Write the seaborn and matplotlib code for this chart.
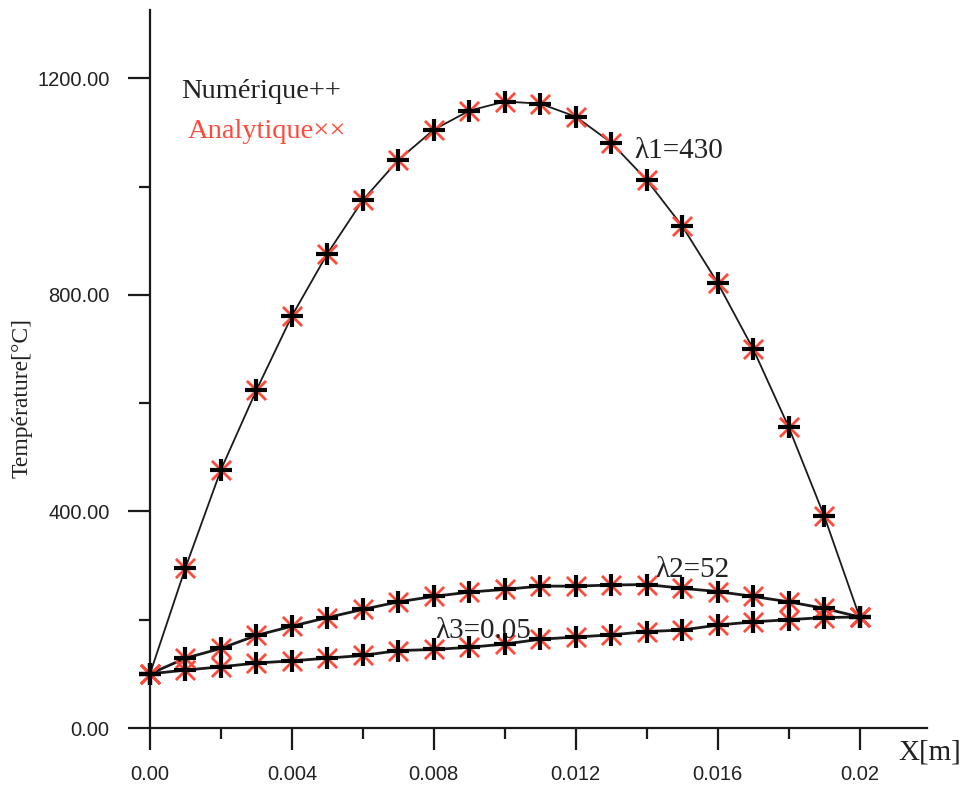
import numpy as np
import pandas as pd
import matplotlib
matplotlib.use("Agg")
import matplotlib.pyplot as plt
import seaborn as sns

# Position along the wall [m]
x_pos = [0.000, 0.001, 0.002, 0.003, 0.004, 0.005, 0.006, 0.007, 0.008, 0.009, 0.010,
         0.011, 0.012, 0.013, 0.014, 0.015, 0.016, 0.017, 0.018, 0.019, 0.020]

# Temperature profiles [°C] for three conductivities
temp_l1 = [100, 296, 477, 624, 761, 876, 975, 1049, 1105, 1140, 1157,
           1153, 1129, 1081, 1012, 927, 822, 700, 556, 392, 205]
temp_l2 = [100, 129, 147, 171, 188, 204, 219, 233, 243, 251, 256,
           262, 262, 264, 265, 258, 252, 243, 233, 221, 205]
temp_l3 = [100, 107, 113, 120, 124, 129, 134, 143, 145, 149, 155,
           164, 168, 172, 178, 181, 190, 196, 200, 204, 205]

curve_names = ["λ1=430", "λ2=52", "λ3=0.05"]
x_ticks = [0.0, 0.004, 0.008, 0.012, 0.016, 0.02]
x_tick_labels = ["0.00", "0.004", "0.008", "0.012", "0.016", "0.02"]
y_ticks = [0, 400, 800, 1200]
y_tick_labels = ["0.00", "400.00", "800.00", "1200.00"]

df = pd.concat([
    pd.DataFrame({"x": x_pos, "T": t, "curve": name})
    for name, t in zip(curve_names, [temp_l1, temp_l2, temp_l3])
], ignore_index=True)

W, H, DPI = 966, 785, 100
fig = plt.figure(figsize=(W / DPI, H / DPI), dpi=DPI)
ax = fig.add_axes([150 / W, 1 - 728 / H, (927 - 150) / W, (728 - 10) / H])

serif = "Liberation Serif"
sans = "Liberation Sans"
txt = "#222222"
red = "#ff4a3a"

# Connecting lines
for name, lw in zip(curve_names, [1.3, 2.0, 2.0]):
    sns.lineplot(data=df[df["curve"] == name], x="x", y="T", color="#1a1a1a",
                 linewidth=lw, ax=ax, legend=False, sort=False, estimator=None)

# Analytical solution (red ×) under numerical solution (black +)
sns.scatterplot(data=df, x="x", y="T", marker="x", s=190, color=red,
                linewidth=2.0, ax=ax, legend=False, clip_on=False, zorder=3)
sns.scatterplot(data=df, x="x", y="T", marker="+", s=270, color="black",
                linewidth=3.0, ax=ax, legend=False, clip_on=False, zorder=4)

ax.set_xlim(0, 0.0219)
ax.set_ylim(0, 1326)

for side in ["top", "right"]:
    ax.spines[side].set_visible(False)
for side in ["left", "bottom"]:
    ax.spines[side].set_linewidth(1.6)
    ax.spines[side].set_color("#1a1a1a")

ax.set_xticks(x_ticks)
ax.set_xticklabels(x_tick_labels)
ax.set_xticks([0.002, 0.006, 0.010, 0.014, 0.018], minor=True)
ax.set_yticks(y_ticks)
ax.set_yticklabels(y_tick_labels)
ax.set_yticks([200, 600, 1000], minor=True)

ax.tick_params(which="major", length=16, width=1.6, color="#1a1a1a", pad=11,
               labelsize=14.5, labelcolor=txt)
ax.tick_params(which="minor", length=8, width=1.6, color="#1a1a1a")
ax.tick_params(axis="y", which="major", pad=13)
for lab in ax.get_xticklabels() + ax.get_yticklabels():
    lab.set_family(sans)

ax.set_xlabel("")
ax.set_ylabel("")
fig.text(22 / W, 1 - 398 / H, "Température[°C]", family=serif, fontsize=17,
         color=txt, rotation=90, ha="center", va="center")
ax.text(0.02109, -46, "X[m]", family=serif, fontsize=21, color=txt,
        ha="left", va="center", clip_on=False)

# Curve labels
ax.text(0.01365, 1065, curve_names[0], family=serif, fontsize=21, color=txt,
        ha="left", va="center")
ax.text(0.01425, 292, curve_names[1], family=serif, fontsize=21, color=txt,
        ha="left", va="center")
ax.text(0.00805, 179, curve_names[2], family=serif, fontsize=21, color=txt,
        ha="left", va="center")

# Marker key
ax.text(0.00089, 1175, "Numérique++", family=serif, fontsize=20.5, color=txt,
        ha="left", va="center")
ax.text(0.00105, 1102, "Analytique××", family=serif, fontsize=20.5, color=red,
        ha="left", va="center")

fig.savefig("out.png", dpi=DPI, facecolor="white")
